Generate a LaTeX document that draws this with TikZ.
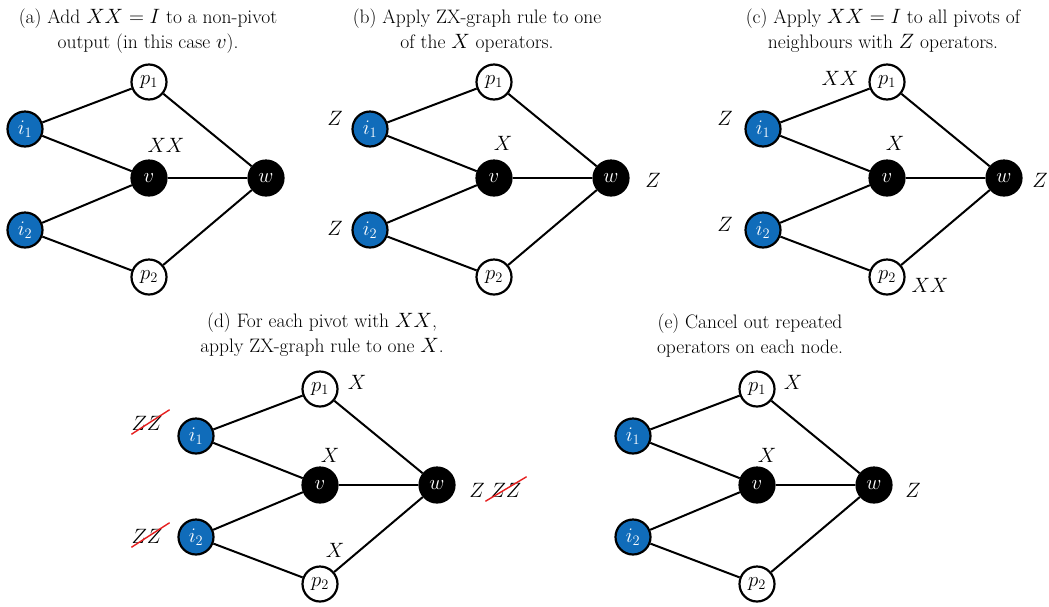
\documentclass[tikz,border=0pt]{standalone}
\usepackage{amsmath}
\usetikzlibrary{calc}
\definecolor{zxblue}{RGB}{16,108,186}
\definecolor{strikered}{RGB}{230,30,30}
\tikzset{
  basenode/.style={circle, draw=black, line width=2.2pt, minimum size=35pt, inner sep=0pt, font=\fontsize{21}{21}\selectfont},
  inpnode/.style={basenode, fill=zxblue, text=white},
  pivnode/.style={basenode, fill=white, text=black},
  outnode/.style={basenode, fill=black, text=white},
  edgeline/.style={line width=2pt, draw=black},
  oplabel/.style={inner sep=0pt, font=\fontsize{22}{22}\selectfont},
  titletext/.style={align=center, inner sep=0pt, font=\fontsize{19.5}{25}\selectfont},
  strike/.style={draw=strikered, line width=1.4pt}
}
\newcommand{\zxgraph}[3]{%
  \node[inpnode] (#1i1) at (#2-124,#3-49) {$i_1$};
  \node[inpnode] (#1i2) at (#2-124,#3+52) {$i_2$};
  \node[pivnode] (#1p1) at (#2,#3-96) {$p_1$};
  \node[pivnode] (#1p2) at (#2,#3+99) {$p_2$};
  \node[outnode] (#1v) at (#2,#3) {$v$};
  \node[outnode] (#1w) at (#2+117,#3) {$w$};
  \draw[edgeline] (#1i1) -- (#1p1);
  \draw[edgeline] (#1i1) -- (#1v);
  \draw[edgeline] (#1i2) -- (#1v);
  \draw[edgeline] (#1i2) -- (#1p2);
  \draw[edgeline] (#1p1) -- (#1w);
  \draw[edgeline] (#1v) -- (#1w);
  \draw[edgeline] (#1p2) -- (#1w);
}
\begin{document}
\begin{tikzpicture}[x=1pt,y=-1pt]
\useasboundingbox[fill=white] (0,0) rectangle (1049,606);
% (a)
\node[titletext] (ta) at (148,31) {(a) Add $XX=I$ to a non-pivot\\output (in this case $v$).};
\zxgraph{a}{149}{178}
\node[oplabel] (axx) at (166,145) {$XX$};
% (b)
\node[titletext] (tb) at (477,31) {(b) Apply ZX-graph rule to one\\of the $X$ operators.};
\zxgraph{b}{494}{178}
\node[oplabel] (bz1) at (335,118) {$Z$};
\node[oplabel] (bz2) at (335,228) {$Z$};
\node[oplabel] (bx) at (503,143) {$X$};
\node[oplabel] (bz3) at (653,180) {$Z$};
% (c)
\node[titletext] (tc) at (883,31) {(c) Apply $XX=I$ to all pivots of\\neighbours with $Z$ operators.};
\zxgraph{c}{887}{178}
\node[oplabel] (cz1) at (725,118) {$Z$};
\node[oplabel] (cz2) at (725,224) {$Z$};
\node[oplabel] (cxx1) at (840,78) {$XX$};
\node[oplabel] (cx) at (895,143) {$X$};
\node[oplabel] (cxx2) at (930,285) {$XX$};
\node[oplabel] (cz3) at (1040,180) {$Z$};
% (d)
\node[titletext] (td) at (322,335) {(d) For each pivot with $XX$,\\apply ZX-graph rule to one $X$.};
\zxgraph{d}{320}{485}
\node[oplabel] (dzz1) at (147,423) {$ZZ$};
\node[oplabel] (dzz2) at (147,536) {$ZZ$};
\node[oplabel] (dx1) at (357,382) {$X$};
\node[oplabel] (dx2) at (330,455) {$X$};
\node[oplabel] (dx3) at (335,550) {$X$};
\node[oplabel] (dz) at (477,490) {$Z$};
\node[oplabel] (dzz3) at (506,490) {$ZZ$};
\draw[strike] ([shift={(0,4)}]dzz1.south west) -- ([shift={(7,-6)}]dzz1.north east);
\draw[strike] ([shift={(0,4)}]dzz2.south west) -- ([shift={(7,-6)}]dzz2.north east);
\draw[strike] ([shift={(-5,4)}]dzz3.south west) -- ([shift={(5,-6)}]dzz3.north east);
% (e)
\node[titletext] (te) at (750,336) {(e) Cancel out repeated\\operators on each node.};
\zxgraph{e}{757}{485}
\node[oplabel] (ex1) at (793,382) {$X$};
\node[oplabel] (ex2) at (767,455) {$X$};
\node[oplabel] (ez) at (913,490) {$Z$};
\end{tikzpicture}
\end{document}
